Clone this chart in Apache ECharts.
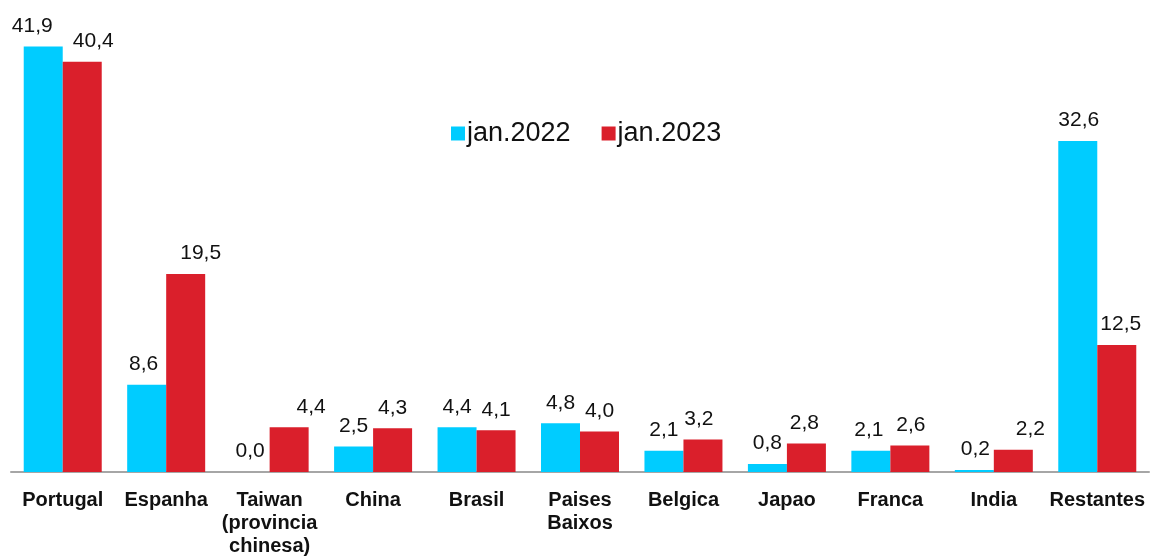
<!DOCTYPE html>
<html><head><meta charset="utf-8">
<script src="https://cdn.jsdelivr.net/npm/echarts@6/dist/echarts.min.js"></script>
<style>html,body{margin:0;padding:0;background:#fff}#c{width:1150px;height:558px}</style>
</head><body><div id="c"></div>
<script>
const categories = ['Portugal','Espanha','Taiwan\n(provincia\nchinesa)','China','Brasil','Paises\nBaixos','Belgica','Japao','Franca','India','Restantes'];
const seriesNames = ['jan.2022','jan.2023'];
const values2022 = [41.9, 8.6, 0.0, 2.5, 4.4, 4.8, 2.1, 0.8, 2.1, 0.2, 32.6];
const values2023 = [40.4, 19.5, 4.4, 4.3, 4.1, 4.0, 3.2, 2.8, 2.6, 2.2, 12.5];
// horizontal nudges of value labels (px), as in the reference
const labelDx2022 = [-11, -3, 0, 0, 0, 0, 0, 0, -2, 1, 1];
const labelDx2023 = [11, 15, 22, 0, 0, 0, -4, -2, 1, 17, 4];

const fmt = v => v.toFixed(1).replace('.', ',');
function mk(vals, dx) {
  return vals.map((v, i) => ({ value: v, label: { offset: [dx[i], 0] } }));
}
const chart = echarts.init(document.getElementById('c'));
chart.setOption({
  animation: false,
  textStyle: { fontFamily: 'Liberation Sans, Arial, sans-serif' },
  grid: { left: 11, right: 1, top: 15, bottom: 86, containLabel: false },
  legend: {
    left: 446, top: 115, itemWidth: 14, itemHeight: 14, itemGap: 31,
    icon: 'rect',
    textStyle: { fontSize: 27, color: '#111', padding: [0, 0, 0, -3] },
    data: seriesNames
  },
  xAxis: {
    type: 'category', data: categories,
    axisLine: { lineStyle: { color: '#A6A6A6', width: 2 } },
    axisTick: { show: false },
    axisLabel: { fontSize: 20, fontWeight: 'bold', color: '#111', lineHeight: 23, margin: 17, interval: 0 }
  },
  yAxis: { type: 'value', min: 0, max: 45, show: false, splitLine: { show: false } },
  series: [
    { name: seriesNames[0], type: 'bar', data: mk(values2022, labelDx2022), barWidth: 39, barGap: '0%',
      itemStyle: { color: '#00CCFF' },
      label: { show: true, position: 'top', distance: 10, fontSize: 21, color: '#111', formatter: p => fmt(p.value) } },
    { name: seriesNames[1], type: 'bar', data: mk(values2023, labelDx2023), barWidth: 39, barGap: '0%',
      itemStyle: { color: '#DA1F2B' },
      label: { show: true, position: 'top', distance: 10, fontSize: 21, color: '#111', formatter: p => fmt(p.value) } }
  ]
});
</script></body></html>
